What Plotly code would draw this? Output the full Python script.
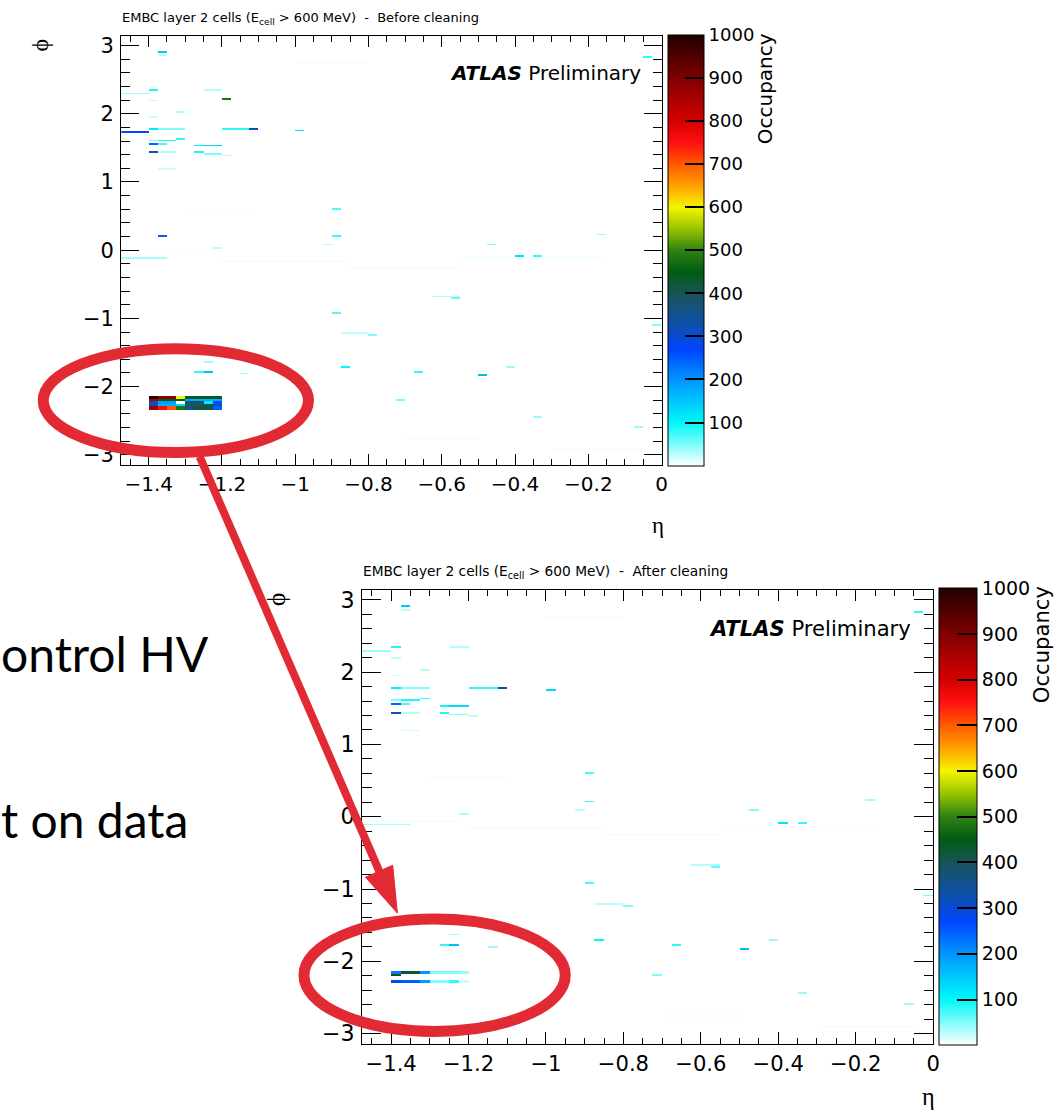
import numpy as np
import plotly.graph_objects as go

W, H = 1062, 1119

# ---------------- binning (EMB layer 2) ----------------
N_ETA, N_PHI = 59, 256
ETA_MIN, ETA_MAX = -1.475, 0.0
DETA = 0.025
DPHI = 2 * np.pi / N_PHI

# ---------------- data: cells seen in both maps ----------------
# (lower eta edge of first cell, number of eta cells, phi, occupancy)
common_eta_lo = [-1.375, -1.375, -1.475, -1.4, -1.4, -1.25, -1.325, -1.4,
                 -1.4, -1.375, -1.2, -1.125, -1.0,
                 -1.4, -1.375, -1.325, -1.4, -1.375, -1.275, -1.25,
                 -1.4, -1.375, -1.275, -1.25, -1.2, -1.375,
                 -0.9, -1.225, -1.475, -0.475, -0.4, -0.35,
                 -0.575, -0.625, -0.9, -0.8, -0.875,
                 -0.875, -0.675, -0.5, -0.425, -1.275, -1.25, -1.25, -1.15,
                 -0.725, -0.35, -0.075, -0.025, -0.175, -0.9, -0.925, -0.05,
                 -1.475, -1.2, -0.85, -0.55, -1.3, -0.45, -1.0, -0.3, -0.7]
common_eta_n = [1, 1, 3, 1, 1, 2, 1, 1,
                1, 3, 3, 1, 1,
                1, 2, 1, 1, 1, 1, 2,
                1, 2, 1, 2, 1, 2,
                1, 1, 5, 1, 1, 1,
                1, 3, 1, 1, 3,
                1, 1, 1, 1, 1, 1, 1, 1,
                1, 1, 1, 1, 1, 1, 1, 1,
                10, 14, 12, 16, 8, 10, 8, 10, 8]
common_phi = [2.92, 2.85, 2.29, 2.335, 2.19, 2.35, 2.03, 1.95,
              1.77, 1.77, 1.77, 1.77, 1.745,
              1.61, 1.61, 1.635, 1.557, 1.557, 1.54, 1.54,
              1.43, 1.43, 1.43, 1.40, 1.375, 1.18,
              0.21, 0.03, -0.10, 0.085, -0.085, -0.085,
              -0.71, -0.68, -0.91, -1.24, -1.22,
              -1.71, -1.77, -1.84, -1.70, -1.77, -1.77, -1.63, -1.81,
              -2.20, -2.45, -2.58, -1.09, 0.225, 0.59, 0.09, 2.84,
              -0.05, -0.17, -0.25, -0.12, 0.55, 2.60, 2.75, -2.9, -2.75]
common_occ = [150, 25, 40, 90, 25, 30, 30, 20,
              110, 50, 80, 320, 130,
              50, 90, 80, 240, 70, 100, 130,
              320, 30, 90, 50, 30, 20,
              80, 30, 35, 50, 120, 80,
              60, 30, 70, 50, 25,
              100, 80, 160, 40, 80, 160, 40, 40,
              50, 40, 40, 50, 40, 70, 30, 80,
              6, 5, 5, 6, 5, 5, 5, 5, 5]

# ---------------- data: cells removed by the cleaning ----------------
removed_eta_lo = [-1.475, -1.2, -1.375]
removed_eta_n = [3, 1, 1]
removed_phi = [1.73, 2.21, 0.20]
removed_occ = [270, 480, 250]

# hot HV sector near eta=-1.3, phi=-2.2 (8 eta cells from -1.4)
cluster_eta_lo = -1.4
cluster_bins_before = [[40, 39], [38], [37, 36], [35], [34, 33]]
cluster_occ_before = [
    [1000, 880, 880, 600, 440, 440, 440, 440],
    [850, 450, 450, 450, 180, 180, 180, 180],
    [330, 190, 190, 0, 380, 380, 110, 260],
    [300, 170, 170, 130, 400, 400, 380, 320],
    [870, 760, 700, 480, 370, 420, 420, 250],
]
cluster_bins_after = [[40, 39], [38], [35, 34]]
cluster_occ_after = [
    [220, 430, 430, 200, 50, 50, 50, 40],
    [430, 0, 0, 0, 0, 0, 0, 0],
    [280, 250, 250, 190, 50, 50, 80, 20],
]

eta_ticks = [-1.4, -1.2, -1.0, -0.8, -0.6, -0.4, -0.2, 0.0]
eta_tick_labels = ["\u22121.4", "\u22121.2", "\u22121", "\u22120.8", "\u22120.6",
                   "\u22120.4", "\u22120.2", "0"]
phi_ticks = [-3, -2, -1, 0, 1, 2, 3]
phi_tick_labels = ["\u22123", "\u22122", "\u22121", "0", "1", "2", "3"]
occ_ticks = [100, 200, 300, 400, 500, 600, 700, 800, 900, 1000]

# ---------------- build histograms ----------------
eta_centers = ETA_MIN + DETA * (np.arange(N_ETA) + 0.5)
phi_centers = -np.pi + DPHI * (np.arange(N_PHI) + 0.5)


def fill(z, eta_lo, n, phi, val):
    i0 = int(round((eta_lo - ETA_MIN) / DETA))
    j = int(np.floor((phi + np.pi) / DPHI))
    z[j, i0:i0 + n] = np.maximum(z[j, i0:i0 + n], val)


def fill_cluster(z, bins, occ):
    i0 = int(round((cluster_eta_lo - ETA_MIN) / DETA))
    for rows, vals in zip(bins, occ):
        for j in rows:
            for k, v in enumerate(vals):
                z[j, i0 + k] = max(z[j, i0 + k], v)


z_after = np.zeros((N_PHI, N_ETA))
for a, b, c, d in zip(common_eta_lo, common_eta_n, common_phi, common_occ):
    fill(z_after, a, b, c, d)
z_before = z_after.copy()
for a, b, c, d in zip(removed_eta_lo, removed_eta_n, removed_phi, removed_occ):
    fill(z_before, a, b, c, d)
fill_cluster(z_before, cluster_bins_before, cluster_occ_before)
fill_cluster(z_after, cluster_bins_after, cluster_occ_after)

# ATLAS-like palette
palette = [
    [0.0, "#ffffff"], [0.1, "#00f8f8"], [0.2, "#0095ff"], [0.27, "#0045ff"],
    [0.33, "#1050a8"], [0.4, "#185458"], [0.45, "#005c12"], [0.5, "#2f8212"],
    [0.55, "#98c400"], [0.6, "#f5f500"], [0.65, "#ffa000"], [0.7, "#ff5a00"],
    [0.75, "#ff1010"], [0.8, "#d40000"], [0.9, "#800000"], [1.0, "#200000"],
]


def px(x):
    return x / W


def py(y):
    return 1 - y / H


# panel geometry (pixels)
panels = {
    "top": dict(x0=122, x1=666, y0=33, y1=464, s=1.0, eta_dy=61),
    "bot": dict(x0=364.5, x1=939.3, y0=589.7, y1=1046.5, s=1.057, eta_dy=53),
}

fig = go.Figure()
fig.add_trace(go.Heatmap(x=eta_centers, y=phi_centers, z=z_before,
                         coloraxis="coloraxis", xaxis="x", yaxis="y",
                         hoverinfo="skip"))
fig.add_trace(go.Heatmap(x=eta_centers, y=phi_centers, z=z_after,
                         coloraxis="coloraxis2", xaxis="x2", yaxis="y2",
                         hoverinfo="skip"))

FONT = "DejaVu Sans"


def axis_x(p, anchor):
    s = p["s"]
    return dict(domain=[px(p["x0"]), px(p["x1"])], range=[ETA_MIN, ETA_MAX],
                anchor=anchor, tickmode="array", tickvals=eta_ticks,
                ticktext=eta_tick_labels, ticks="inside", ticklen=11 * s,
                tickwidth=1, tickcolor="black",
                minor=dict(ticks="inside", ticklen=6 * s, tickmode="linear",
                           tick0=0, dtick=0.05, tickcolor="black", tickwidth=1),
                showline=True, linecolor="black", linewidth=1, mirror="allticks",
                showgrid=False, zeroline=False,
                tickfont=dict(family=FONT, size=20 * s, color="black"),
                ticklabelstandoff=1)


def axis_y(p, anchor):
    s = p["s"]
    return dict(domain=[py(p["y1"]), py(p["y0"])], range=[-np.pi, np.pi],
                anchor=anchor, tickmode="array", tickvals=phi_ticks,
                ticktext=phi_tick_labels, ticks="inside", ticklen=18 * s,
                tickwidth=1, tickcolor="black",
                minor=dict(ticks="inside", ticklen=9 * s, tickmode="linear",
                           tick0=0, dtick=0.2, tickcolor="black", tickwidth=1),
                showline=True, linecolor="black", linewidth=1, mirror="allticks",
                showgrid=False, zeroline=False,
                tickfont=dict(family=FONT, size=21 * s, color="black"),
                ticklabelstandoff=2)


def cax(p):
    s = p["s"]
    return dict(cmin=0, cmax=1000, colorscale=palette,
                colorbar=dict(x=px(p["x1"] + 6 * s), xanchor="left", xpad=0,
                              y=py((p["y0"] + p["y1"]) / 2), yanchor="middle",
                              ypad=0, len=p["y1"] - p["y0"], lenmode="pixels",
                              thickness=36 * s, thicknessmode="pixels",
                              tickmode="array", tickvals=occ_ticks,
                              ticks="inside", ticklen=19 * s, tickwidth=1.5,
                              tickcolor="black", outlinewidth=1,
                              outlinecolor="black",
                              tickfont=dict(family=FONT, size=18 * s,
                                            color="black")))


T, B = panels["top"], panels["bot"]
fig.update_layout(
    width=W, height=H, margin=dict(l=0, r=0, t=0, b=0),
    paper_bgcolor="white", plot_bgcolor="white", showlegend=False,
    xaxis=axis_x(T, "y"), yaxis=axis_y(T, "x"),
    xaxis2=axis_x(B, "y2"), yaxis2=axis_y(B, "x2"),
    coloraxis=cax(T), coloraxis2=cax(B),
)


def note(text, x, y, xa="center", ya="middle", size=14, family=FONT, angle=0):
    return dict(text=text, x=px(x), y=py(y), xref="paper", yref="paper",
                xanchor=xa, yanchor=ya, textangle=angle, showarrow=False,
                borderpad=0, font=dict(family=family, size=size, color="black"))


ann = []
for key, label in (("top", "Before cleaning"), ("bot", "After cleaning")):
    p = panels[key]
    s = p["s"]
    ann.append(note("EMBC layer 2 cells (E<sub>cell</sub> &gt; 600 MeV)\u00a0\u00a0-\u00a0\u00a0" + label,
                    p["x0"], p["y0"] - 17 * s, xa="left", size=13 * s))
    ann.append(note("<b><i>ATLAS</i></b> Preliminary",
                    p["x1"] - 20 * s, p["y0"] + 37 * s, xa="right", size=20 * s))
    ann.append(note("\u03b7", p["x1"] + 3 * s, p["y1"] + p["eta_dy"], xa="right",
                    size=23 * s, family="Liberation Serif"))
    ann.append(note("\u03d5", p["x0"] - 82 * s, p["y0"] + 9 * s, size=24 * s,
                    family="Liberation Serif", angle=-90))
    ann.append(note("Occupancy", p["x1"] + 104 * s, p["y0"] - 4 * s, ya="top",
                    size=20 * s, angle=-90))

ann.append(note("ontrol HV", 0, 654, xa="left", size=48, family="Lato"))
ann.append(note("t on data", 0, 821, xa="left", size=48, family="Lato"))

RED = "#e22a35"
shapes = [
    dict(type="circle", xref="paper", yref="paper",
         x0=px(43.5), x1=px(310.5), y0=py(452), y1=py(347.5),
         line=dict(color=RED, width=11)),
    dict(type="circle", xref="paper", yref="paper",
         x0=px(306), x1=px(569), y0=py(1034), y1=py(921),
         line=dict(color=RED, width=11)),
    dict(type="line", xref="paper", yref="paper",
         x0=px(201), y0=py(456), x1=px(384), y1=py(878),
         line=dict(color=RED, width=8)),
    dict(type="path", xref="paper", yref="paper",
         path=(f"M {px(400)} {py(915)} L {px(395.3)} {py(866.9)} "
               f"L {px(367.9)} {py(878.9)} Z"),
         fillcolor=RED, line=dict(color=RED, width=1)),
]

fig.update_layout(annotations=ann, shapes=shapes)
fig.write_html("out.html")
